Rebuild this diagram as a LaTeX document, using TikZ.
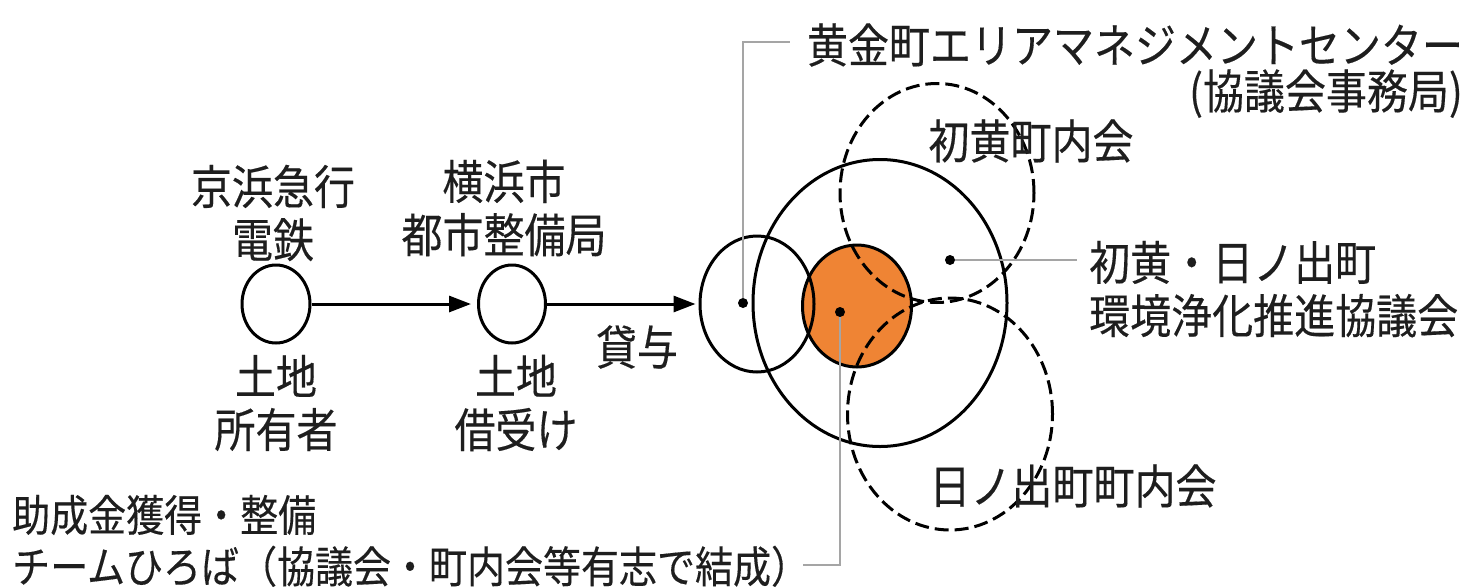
\documentclass[tikz,border=0pt]{standalone}
\usepackage{fontspec}
\newfontfamily\jp[FakeBold=0.3]{Noto Sans CJK JP}
\usetikzlibrary{shapes.geometric,arrows.meta}
\definecolor{orng}{RGB}{239,132,52}
\definecolor{leadgray}{RGB}{165,165,165}
\definecolor{inkc}{RGB}{30,30,30}
\newcommand\vsc[1]{\scalebox{1}[1.14]{\begin{tabular}{@{}c@{}}#1\end{tabular}}}
\newcommand\vsl[1]{\scalebox{1}[1.14]{\begin{tabular}{@{}l@{}}#1\end{tabular}}}
\begin{document}
\begin{tikzpicture}[x=1pt,y=-1pt,
  ring/.style={ellipse,draw=black,line width=3pt,inner sep=0pt},
  dashring/.style={ring,dash pattern=on 14pt off 6pt},
  dotnode/.style={circle,fill=black,inner sep=0pt,minimum size=10pt},
  lbl/.style={font=\jp\fontsize{41}{40.5}\selectfont,text=inkc,inner sep=0pt},
  lbls/.style={font=\jp\fontsize{38}{42}\selectfont,text=inkc,inner sep=0pt},
  flow/.style={line width=3pt,-{Triangle[length=22pt,width=16pt]}},
  leader/.style={draw=leadgray,line width=2pt}]

\useasboundingbox (0,0) rectangle (1468,587);

% left chain
\node[ring,minimum width=68pt,minimum height=78pt] (n1) at (276,304) {};
\node[ring,minimum width=67pt,minimum height=78pt] (n2) at (512,304) {};

% cluster
\node[ring,fill=orng,minimum width=109pt,minimum height=122pt] (cO) at (857,306) {};
\node[ring,minimum width=114pt,minimum height=136pt] (cA) at (757,304) {};
\node[ring,minimum width=254pt,minimum height=287pt] (cB) at (880,303) {};
\node[dashring,minimum width=194pt,minimum height=219pt] (cT) at (937,193) {};
\node[dashring,minimum width=205pt,minimum height=232pt] (cD) at (950,414) {};

\draw[flow,shorten >=6pt] (n1) -- (n2);
\draw[flow,shorten >=3pt] (n2) -- (cA.west);

% dots
\node[dotnode] (dA) at (743,303) {};
\node[dotnode] (dO) at (840,312) {};
\node[dotnode] (dT) at (950,260) {};

% labels
\node[lbl] (keikyu) at (273,218) {\vsc{京浜急行\\電鉄}};
\node[lbl] (owner) at (276,408) {\vsc{土地\\所有者}};
\node[lbl] (yokohama) at (504,213) {\vsc{横浜市\\都市整備局}};
\node[lbl] (lessee) at (516,408) {\vsc{土地\\借受け}};
\node[lbl] (lend) at (637,352) {\vsc{貸与}};
\node[lbl] (centre) at (1135,50) {\vsc{黄金町エリアマネジメントセンター}};
\node[lbl,anchor=east] (office) at (1463,96) {\vsc{(協議会事務局)}};
\node[lbl] (hatsune) at (1031,146) {\vsc{初黄町内会}};
\node[lbl,anchor=west] (council) at (1089,294) {\vsl{初黄・日ノ出町\\環境浄化推進協議会}};
\node[lbl] (hinode) at (1073,491) {\vsc{日ノ出町町内会}};
\node[lbls,anchor=west] (team) at (12,546) {\vsl{助成金獲得・整備\\チームひろば（協議会・町内会等有志で結成）}};

% leaders
\coordinate (k1) at (790,42);
\coordinate (k2) at (1077,260);
\coordinate (k3) at (803,565);
\draw[leader] (dA) |- (k1);
\draw[leader] (dT) -- (k2);
\draw[leader] (dO) |- (k3);
\end{tikzpicture}
\end{document}
